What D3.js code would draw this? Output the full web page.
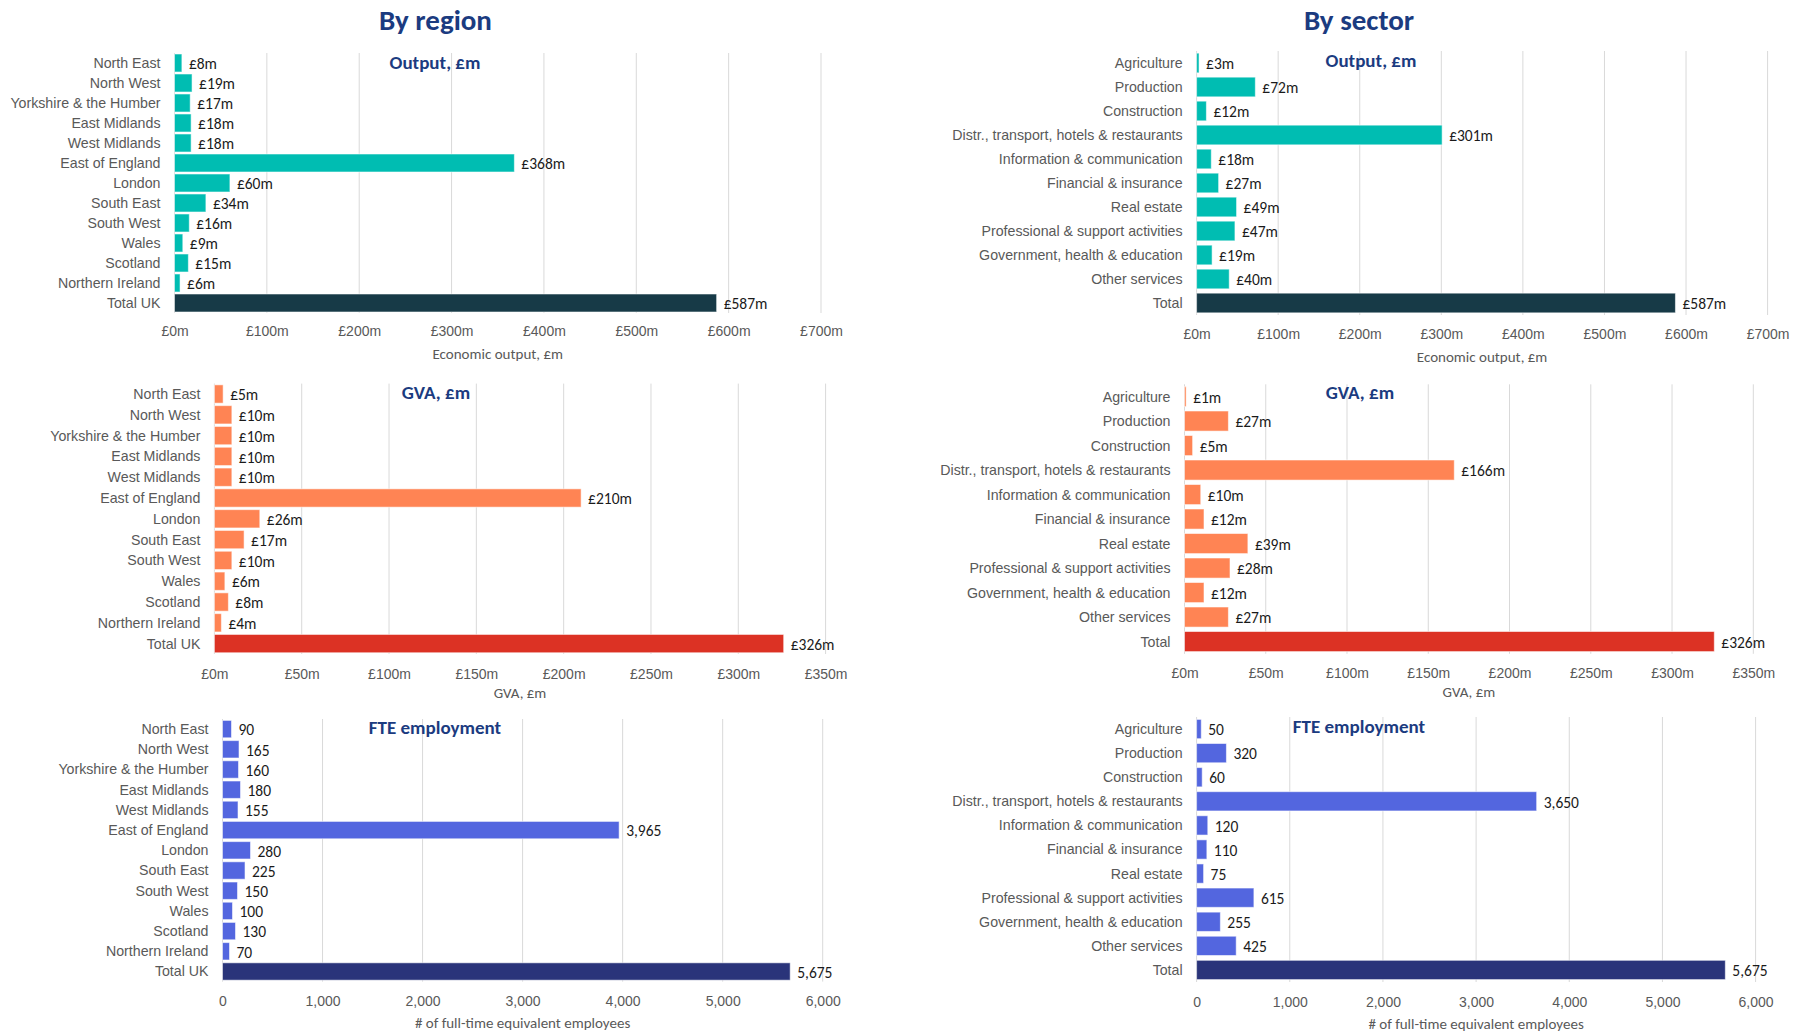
<!DOCTYPE html>
<html>
<head>
<meta charset="utf-8">
<script src="https://cdn.jsdelivr.net/npm/d3@7"></script>
<style>
  html, body { margin: 0; padding: 0; background: #ffffff; }
  svg { display: block; font-family: Carlito, Calibri, Lato, "Open Sans", sans-serif; }
</style>
</head>
<body>
<svg id="chart" width="1798" height="1033"></svg>
<script>
// Categories
const regions = ["North East", "North West", "Yorkshire & the Humber", "East Midlands", "West Midlands",
  "East of England", "London", "South East", "South West", "Wales", "Scotland", "Northern Ireland", "Total UK"];
const sectors = ["Agriculture", "Production", "Construction", "Distr., transport, hotels & restaurants",
  "Information & communication", "Financial & insurance", "Real estate", "Professional & support activities",
  "Government, health & education", "Other services", "Total"];

// Economic output, £m
const outputByRegion = [8, 19, 17, 18, 18, 368, 60, 34, 16, 9, 15, 6, 587];
const outputBySector = [3, 72, 12, 301, 18, 27, 49, 47, 19, 40, 587];
// GVA, £m
const gvaByRegion = [5, 10, 10, 10, 10, 210, 26, 17, 10, 6, 8, 4, 326];
const gvaBySector = [1, 27, 5, 166, 10, 12, 39, 28, 12, 27, 326];
// Full-time equivalent employment
const fteByRegion = [90, 165, 160, 180, 155, 3965, 280, 225, 150, 100, 130, 70, 5675];
const fteBySector = [50, 320, 60, 3650, 120, 110, 75, 615, 255, 425, 5675];

// Axis ticks
const outputTicks = [0, 100, 200, 300, 400, 500, 600, 700];
const gvaTicks = [0, 50, 100, 150, 200, 250, 300, 350];
const fteTicks = [0, 1000, 2000, 3000, 4000, 5000, 6000];

const titleColor = "#1b3b80";
const labelGrey = "#595959";
const gridGrey = "#d9d9d9";

const money = v => "£" + v + "m";
const comma = d3.format(",");

const svg = d3.select("#chart");

// Column headings
svg.append("text").attr("x", 435.5).attr("y", 20).attr("text-anchor", "middle")
  .attr("dominant-baseline", "central").attr("font-size", 29).attr("font-weight", 700)
  .attr("fill", titleColor).text("By region");
svg.append("text").attr("x", 1359).attr("y", 20).attr("text-anchor", "middle")
  .attr("dominant-baseline", "central").attr("font-size", 29).attr("font-weight", 700)
  .attr("fill", titleColor).text("By sector");

function panel(p) {
  const g = svg.append("g");
  const x = d3.scaleLinear().domain([0, p.ticks[p.ticks.length - 1]]).range([p.x0, p.x1]);
  const y = d3.scaleBand().domain(p.cats).range([p.y0, p.y1]).paddingInner(p.pad).paddingOuter(p.pad / 2);

  // vertical gridlines
  g.append("g").selectAll("line").data(p.ticks).join("line")
    .attr("x1", d => x(d)).attr("x2", d => x(d))
    .attr("y1", p.y0).attr("y2", p.y1)
    .attr("stroke", gridGrey).attr("stroke-width", 1);

  // x axis tick labels
  const axis = d3.axisBottom(x).tickValues(p.ticks).tickSize(0).tickPadding(0).tickFormat(p.tickFmt);
  const ax = g.append("g").attr("transform", `translate(0,${p.tickY})`).call(axis);
  ax.select(".domain").remove();
  ax.selectAll("text").attr("fill", labelGrey).attr("font-size", 14)
    .attr("font-family", null).attr("dy", "0.35em");

  // category labels
  const ay = d3.axisLeft(y).tickSize(0).tickPadding(0);
  const yax = g.append("g").attr("transform", `translate(${p.x0 - 14},0)`).call(ay);
  yax.select(".domain").remove();
  yax.selectAll("text").attr("fill", labelGrey).attr("font-size", 14.2)
    .attr("font-family", null).attr("dy", "0.35em");

  const data = p.cats.map((c, i) => ({ c, v: p.values[i], last: i === p.cats.length - 1 }));

  // bars
  g.append("g").selectAll("rect").data(data).join("rect")
    .attr("x", x(0)).attr("y", d => y(d.c))
    .attr("width", d => x(d.v) - x(0)).attr("height", y.bandwidth())
    .attr("fill", d => d.last ? p.totalColor : p.color)
    .attr("stroke", "#ffffff").attr("stroke-opacity", 0.55).attr("stroke-width", 1);

  // value labels
  g.append("g").selectAll("text").data(data).join("text")
    .attr("x", d => x(d.v) + 7).attr("y", d => y(d.c) + y.bandwidth() / 2)
    .attr("dy", "0.4em").attr("font-size", 15.5).attr("fill", "#1a1a1a")
    .text(d => p.valFmt(d.v));

  // panel title
  g.append("text").attr("x", p.titleX).attr("y", p.titleY).attr("text-anchor", "middle")
    .attr("dominant-baseline", "central").attr("font-size", 19).attr("font-weight", 700)
    .attr("fill", titleColor).text(p.title);

  // axis title
  g.append("text").attr("x", (p.x0 + p.x1) / 2).attr("y", p.axisTitleY).attr("text-anchor", "middle")
    .attr("dominant-baseline", "central").attr("font-size", 15).attr("fill", labelGrey)
    .text(p.axisTitle);
}

const teal = "#00bdb2", tealDark = "#173a47";
const orange = "#ff8454", red = "#dc3224";
const blue = "#5366df", navy = "#2a347a";

panel({ cats: regions, values: outputByRegion, ticks: outputTicks, tickFmt: money, valFmt: money,
  x0: 174.5, x1: 821, y0: 53, y1: 313, pad: 0.1, tickY: 331, axisTitleY: 354,
  color: teal, totalColor: tealDark, title: "Output, £m", titleX: 435, titleY: 62,
  axisTitle: "Economic output, £m" });

panel({ cats: sectors, values: outputBySector, ticks: outputTicks, tickFmt: money, valFmt: money,
  x0: 1196.6, x1: 1767.6, y0: 51, y1: 315, pad: 0.18, tickY: 334, axisTitleY: 357,
  color: teal, totalColor: tealDark, title: "Output, £m", titleX: 1371, titleY: 60,
  axisTitle: "Economic output, £m" });

panel({ cats: regions, values: gvaByRegion, ticks: gvaTicks, tickFmt: money, valFmt: money,
  x0: 214.4, x1: 825.6, y0: 383.6, y1: 654, pad: 0.12, tickY: 674, axisTitleY: 693,
  color: orange, totalColor: red, title: "GVA, £m", titleX: 436, titleY: 392,
  axisTitle: "GVA, £m" });

panel({ cats: sectors, values: gvaBySector, ticks: gvaTicks, tickFmt: money, valFmt: money,
  x0: 1184.5, x1: 1753.3, y0: 384.3, y1: 653.8, pad: 0.18, tickY: 673, axisTitleY: 692,
  color: orange, totalColor: red, title: "GVA, £m", titleX: 1360, titleY: 392,
  axisTitle: "GVA, £m" });

panel({ cats: regions, values: fteByRegion, ticks: fteTicks, tickFmt: comma, valFmt: comma,
  x0: 222.5, x1: 822.7, y0: 719, y1: 981.6, pad: 0.14, tickY: 1001, axisTitleY: 1023,
  color: blue, totalColor: navy, title: "FTE employment", titleX: 435, titleY: 727,
  axisTitle: "# of full-time equivalent employees" });

panel({ cats: sectors, values: fteBySector, ticks: fteTicks, tickFmt: comma, valFmt: comma,
  x0: 1196.6, x1: 1755.6, y0: 717, y1: 982, pad: 0.2, tickY: 1002, axisTitleY: 1024,
  color: blue, totalColor: navy, title: "FTE employment", titleX: 1359, titleY: 726,
  axisTitle: "# of full-time equivalent employees" });
</script>
</body>
</html>
